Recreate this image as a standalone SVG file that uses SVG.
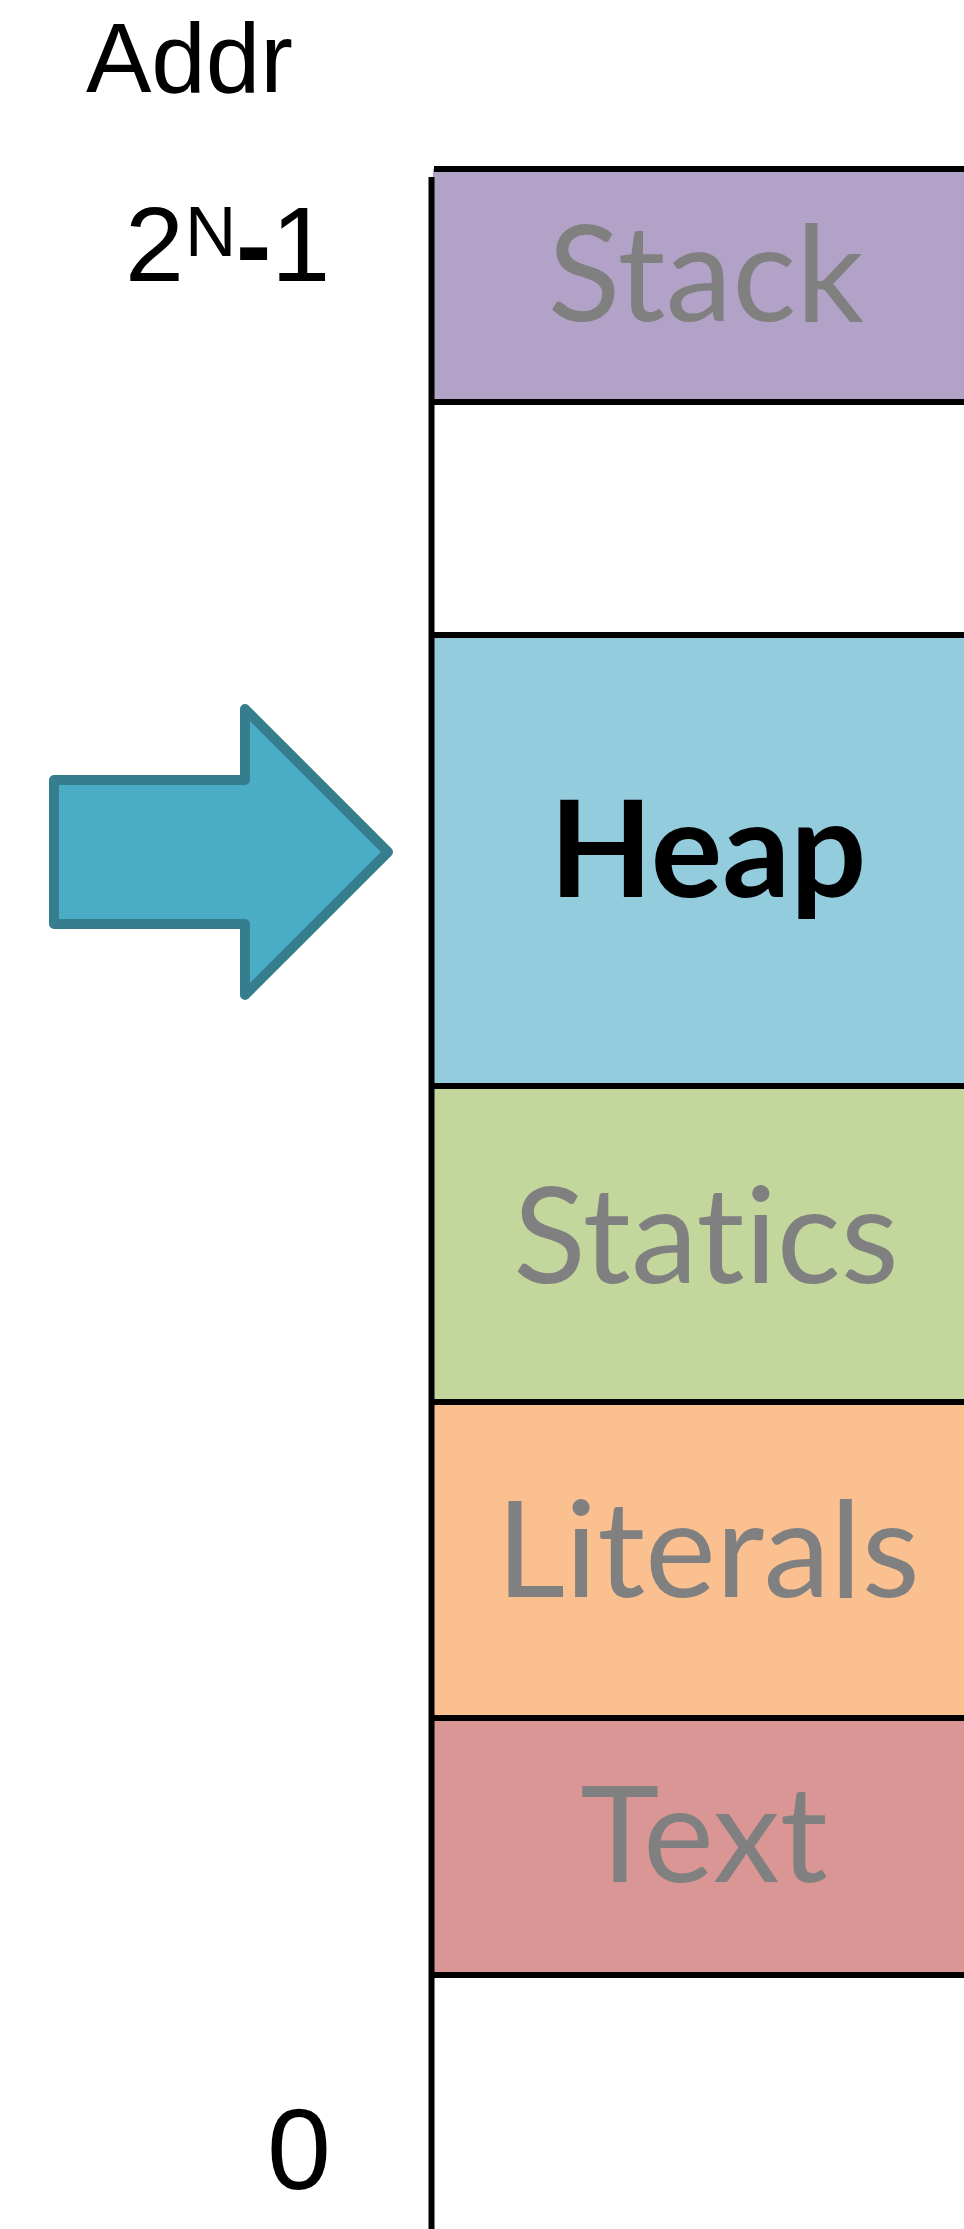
<svg xmlns="http://www.w3.org/2000/svg" width="964" height="2229" viewBox="0 0 964 2229">
<style>
.lbl{font-family:Lato,"Open Sans","Liberation Sans",sans-serif;font-size:134px;fill:#808080;text-anchor:middle;font-variant-ligatures:none;font-feature-settings:"liga" 0}
.bold{font-weight:bold;fill:#000}
.axis{font-family:"Liberation Sans",Arial,sans-serif;fill:#000}
.ln{stroke:#000;stroke-width:6;fill:none}
</style>
<rect width="964" height="2229" fill="#fff"/>
<g id="axis-labels">
<text class="axis" x="86" y="92" font-size="98">Addr</text>
<text class="axis" x="125" y="281" font-size="106">2</text>
<text class="axis" x="185" y="256" font-size="71">N</text>
<text class="axis" x="236" y="281" font-size="106"><tspan font-weight="bold">-</tspan>1</text>
<text class="axis" x="267" y="2189" font-size="115">0</text>
</g>
<g id="stack"><rect x="433" y="169" width="531" height="233" fill="#B3A2C7"/><text class="lbl" x="706" y="321">Stack</text></g>
<g id="free"><rect x="433" y="402" width="531" height="233" fill="#fff"/></g>
<g id="heap"><rect x="433" y="635" width="531" height="451" fill="#93CDDD"/><text class="lbl bold" x="708" y="897">Heap</text></g>
<g id="statics"><rect x="433" y="1086" width="531" height="316" fill="#C3D69B"/><text class="lbl" x="706" y="1283">Statics</text></g>
<g id="literals"><rect x="433" y="1402" width="531" height="316" fill="#FAC090"/><text class="lbl" x="708" y="1597">Literals</text></g>
<g id="text"><rect x="433" y="1718" width="531" height="257" fill="#D99694"/><text class="lbl" x="704" y="1882">Text</text></g>
<g id="borders">
<line class="ln" x1="434" y1="169" x2="964" y2="169"/>
<line class="ln" x1="431" y1="402" x2="964" y2="402"/>
<line class="ln" x1="431" y1="635" x2="964" y2="635"/>
<line class="ln" x1="431" y1="1086" x2="964" y2="1086"/>
<line class="ln" x1="431" y1="1402" x2="964" y2="1402"/>
<line class="ln" x1="431" y1="1718" x2="964" y2="1718"/>
<line class="ln" x1="431" y1="1975" x2="964" y2="1975"/>
<line class="ln" x1="431.5" y1="177" x2="431.5" y2="2229"/>
</g>
<g id="connectors">
<path d="M54,780 H245 V709 L388,852 L245,995 V924 H54 Z" fill="#4BACC6" stroke="#367E8E" stroke-width="10" stroke-linejoin="round"/>
</g>
</svg>
